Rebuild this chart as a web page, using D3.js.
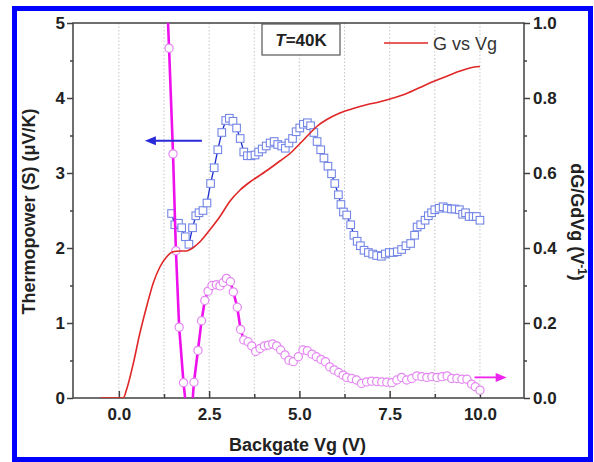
<!DOCTYPE html>
<html><head><meta charset="utf-8">
<script src="https://cdn.jsdelivr.net/npm/d3@7"></script>
<style>body{margin:0;background:#fff}svg{display:block}text{font-family:"Liberation Sans",Arial,sans-serif}</style>
</head><body><svg id="c" width="594" height="462"></svg>
<script>
// ---- data ----
const xTicks = [0, 2.5, 5, 7.5, 10];
const xTickLabels = ["0.0", "2.5", "5.0", "7.5", "10.0"];
const xMinorTicks = [1.25, 3.75, 6.25, 8.75];
const leftTicks = [0, 1, 2, 3, 4, 5];
const leftMinorTicks = [0.5, 1.5, 2.5, 3.5, 4.5];
const rightTicks = [0, 0.2, 0.4, 0.6, 0.8, 1.0];
const rightTickLabels = ["0.0", "0.2", "0.4", "0.6", "0.8", "1.0"];
const rightMinorTicks = [0.1, 0.3, 0.5, 0.7, 0.9];

// Thermopower S (left axis, µV/K)
const blueV = [1.46,1.55,1.65,1.74,1.84,1.94,2.04,2.13,2.22,2.33,2.44,2.54,2.64,2.74,2.85,2.96,3.06,3.16,3.26,3.36,3.46,3.56,3.66,3.77,3.87,3.97,4.08,4.19,4.30,4.40,4.51,4.61,4.71,4.81,4.91,5.01,5.11,5.22,5.31,5.40,5.49,5.59,5.68,5.79,5.89,5.98,6.08,6.15,6.22,6.31,6.42,6.51,6.60,6.69,6.79,6.91,7.03,7.14,7.27,7.38,7.49,7.60,7.71,7.83,7.95,8.08,8.19,8.26,8.36,8.48,8.57,8.66,8.75,8.87,8.98,9.09,9.21,9.31,9.43,9.52,9.60,9.70,9.81,9.90,10.0];
const blueS = [2.46,2.31,2.33,2.27,2.15,2.05,2.27,2.43,2.47,2.50,2.60,2.86,3.07,3.31,3.54,3.70,3.73,3.69,3.60,3.46,3.28,3.23,3.23,3.24,3.28,3.32,3.36,3.40,3.42,3.38,3.36,3.33,3.40,3.46,3.55,3.60,3.65,3.67,3.63,3.54,3.42,3.31,3.20,3.09,2.99,2.86,2.71,2.58,2.48,2.44,2.31,2.17,2.09,2.03,1.97,1.94,1.92,1.90,1.89,1.92,1.94,1.94,1.95,1.98,2.03,2.06,2.17,2.28,2.31,2.37,2.43,2.47,2.51,2.53,2.55,2.53,2.52,2.52,2.51,2.45,2.47,2.42,2.42,2.42,2.37];

// dG/GdVg (right axis, 1/V)
const magV = [1.30,1.39,1.50,1.58,1.67,1.79,1.90,2.00,2.08,2.19,2.29,2.38,2.47,2.58,2.70,2.80,2.89,2.98,3.09,3.17,3.28,3.37,3.46,3.58,3.68,3.79,3.91,4.03,4.14,4.26,4.37,4.48,4.60,4.71,4.83,4.97,5.10,5.22,5.35,5.47,5.60,5.72,5.84,5.96,6.09,6.21,6.31,6.45,6.58,6.72,6.86,7.00,7.14,7.28,7.42,7.56,7.70,7.83,7.97,8.11,8.25,8.39,8.53,8.67,8.81,8.95,9.09,9.22,9.36,9.50,9.64,9.77,9.87,10.0];
const magD = [1.15,0.933,0.651,0.393,0.189,0.041,-0.06,-0.06,0.042,0.127,0.206,0.260,0.285,0.300,0.302,0.299,0.308,0.319,0.310,0.283,0.242,0.183,0.155,0.150,0.139,0.124,0.132,0.139,0.141,0.144,0.139,0.128,0.115,0.101,0.097,0.110,0.128,0.126,0.117,0.110,0.103,0.097,0.083,0.075,0.068,0.061,0.055,0.052,0.048,0.039,0.043,0.045,0.044,0.043,0.042,0.041,0.048,0.055,0.048,0.052,0.059,0.057,0.055,0.057,0.055,0.057,0.059,0.052,0.052,0.050,0.050,0.037,0.030,0.021];

// G vs Vg (drawn on left scale)
const redV = [-0.5,0.12,0.21,0.40,0.58,0.77,0.95,1.14,1.32,1.50,1.69,1.87,2.01,2.24,2.50,2.80,3.07,3.35,3.63,3.91,4.18,4.46,4.74,5.01,5.29,5.48,5.75,6.12,6.49,6.86,7.23,7.60,7.97,8.34,8.71,9.08,9.45,9.81,10.0];
const redG = [0,0,0.107,0.46,0.86,1.22,1.53,1.75,1.88,1.95,1.96,1.96,1.99,2.08,2.23,2.42,2.62,2.77,2.88,2.97,3.06,3.16,3.26,3.39,3.53,3.62,3.71,3.80,3.86,3.91,3.95,4.00,4.06,4.14,4.22,4.29,4.36,4.41,4.42];

// ---- chart ----
const svg = d3.select("#c");
const L = 73, R = 524, T = 23, B = 398;
const x = d3.scaleLinear().domain([-1.27, 11.22]).range([L, R]);
const yL = d3.scaleLinear().domain([0, 5]).range([B, T]);
const yR = d3.scaleLinear().domain([0, 1]).range([B, T]);

// outer blue frame
svg.append("rect").attr("x", 14.5).attr("y", 8.5).attr("width", 576).attr("height", 451)
  .attr("fill", "none").attr("stroke", "#0000ff").attr("stroke-width", 5);

svg.append("clipPath").attr("id", "clip").append("rect")
  .attr("x", L).attr("y", T).attr("width", R - L).attr("height", B - T);

// grid
const grid = d3.range(0, 10.01, 1.25);
svg.append("g").selectAll("line").data(grid).join("line")
  .attr("x1", d => x(d)).attr("x2", d => x(d)).attr("y1", T).attr("y2", B)
  .attr("stroke", "#b8b8b8").attr("stroke-width", 0.8).attr("stroke-dasharray", "1.5,2");

const font = "Liberation Sans, Arial, sans-serif";
function styleAxis(g, size) {
  g.select(".domain").remove();
  g.selectAll(".tick line").attr("stroke", "#404040").attr("stroke-width", 1.5);
  g.selectAll("text").attr("fill", "#222").attr("font-size", size).attr("font-weight", "bold").attr("font-family", font);
}

// x axis (ticks inward)
svg.append("g").attr("transform", `translate(0,${B})`)
  .call(d3.axisBottom(x).tickValues(xTicks).tickSizeInner(-7).tickSizeOuter(0).tickPadding(10)
    .tickFormat((d, i) => xTickLabels[i]))
  .call(g => styleAxis(g, 17));
svg.append("g").attr("transform", `translate(0,${B})`)
  .call(d3.axisBottom(x).tickValues(xMinorTicks).tickSizeInner(-4).tickSizeOuter(0).tickFormat(""))
  .call(g => styleAxis(g, 17));

// left axis
svg.append("g").attr("transform", `translate(${L},0)`)
  .call(d3.axisLeft(yL).tickValues(leftTicks).tickSizeInner(6).tickSizeOuter(0).tickPadding(2).tickFormat(d3.format("d")))
  .call(g => styleAxis(g, 17));
svg.append("g").attr("transform", `translate(${L},0)`)
  .call(d3.axisLeft(yL).tickValues(leftMinorTicks).tickSizeInner(3).tickSizeOuter(0).tickFormat(""))
  .call(g => styleAxis(g, 17));

// right axis
svg.append("g").attr("transform", `translate(${R},0)`)
  .call(d3.axisRight(yR).tickValues(rightTicks).tickSizeInner(6).tickSizeOuter(0).tickPadding(3)
    .tickFormat((d, i) => rightTickLabels[i]))
  .call(g => styleAxis(g, 17));
svg.append("g").attr("transform", `translate(${R},0)`)
  .call(d3.axisRight(yR).tickValues(rightMinorTicks).tickSizeInner(3).tickSizeOuter(0).tickFormat(""))
  .call(g => styleAxis(g, 17));

// plot frame
svg.append("rect").attr("x", L).attr("y", T).attr("width", R - L).attr("height", B - T)
  .attr("fill", "none").attr("stroke", "#404040").attr("stroke-width", 1.5);

const plot = svg.append("g").attr("clip-path", "url(#clip)");

// blue thermopower
const blue = blueV.map((v, i) => [v, blueS[i]]);
plot.append("path").datum(blue)
  .attr("d", d3.line().x(d => x(d[0])).y(d => yL(d[1])))
  .attr("fill", "none").attr("stroke", "#1f2fd0").attr("stroke-width", 1.3);
plot.append("g").selectAll("rect").data(blue).join("rect")
  .attr("x", d => x(d[0]) - 3.8).attr("y", d => yL(d[1]) - 3.8).attr("width", 7.6).attr("height", 7.6)
  .attr("fill", "#fff").attr("stroke", "#7486e6").attr("stroke-width", 1.1);

// magenta dG/GdVg
const mag = magV.map((v, i) => [v, magD[i]]);
plot.append("path").datum(mag)
  .attr("d", d3.line().x(d => x(d[0])).y(d => yR(d[1])))
  .attr("fill", "none").attr("stroke", "#ee11ee").attr("stroke-width", 2.6);
plot.append("g").selectAll("circle").data(mag).join("circle")
  .attr("cx", d => x(d[0])).attr("cy", d => yR(d[1])).attr("r", 4.1)
  .attr("fill", "#fff").attr("stroke", "#e486f2").attr("stroke-width", 1.2);

// red G vs Vg
const red = redV.map((v, i) => [v, redG[i]]);
plot.append("path").datum(red)
  .attr("d", d3.line().curve(d3.curveMonotoneX).x(d => x(d[0])).y(d => yL(d[1])))
  .attr("fill", "none").attr("stroke", "#e02626").attr("stroke-width", 1.6);

// arrows
const ay = yL(3.43);
svg.append("line").attr("x1", x(2.3)).attr("x2", x(0.95)).attr("y1", ay).attr("y2", ay)
  .attr("stroke", "#2a2ad8").attr("stroke-width", 1.8);
svg.append("path").attr("d", `M${x(0.72)},${ay} L${x(0.72) + 11},${ay - 4.5} L${x(0.72) + 11},${ay + 4.5} Z`)
  .attr("fill", "#2a2ad8");
const my = yR(0.055);
svg.append("line").attr("x1", x(9.85)).attr("x2", x(10.45)).attr("y1", my).attr("y2", my)
  .attr("stroke", "#ee22ee").attr("stroke-width", 1.8);
svg.append("path").attr("d", `M${x(10.74)},${my} L${x(10.74) - 11},${my - 4.5} L${x(10.74) - 11},${my + 4.5} Z`)
  .attr("fill", "#ee22ee");

// T=40K box
svg.append("rect").attr("x", 262).attr("y", 24).attr("width", 78).attr("height", 31)
  .attr("fill", "#fff").attr("stroke", "#555").attr("stroke-width", 1.2);
const tt = svg.append("text").attr("x", 301).attr("y", 46).attr("text-anchor", "middle")
  .attr("font-size", 17).attr("font-weight", "bold").attr("fill", "#222");
tt.append("tspan").attr("font-style", "italic").text("T");
tt.append("tspan").text("=40K");

// legend
svg.append("line").attr("x1", 384).attr("x2", 428).attr("y1", 43).attr("y2", 43)
  .attr("stroke", "#e02626").attr("stroke-width", 1.6);
svg.append("text").attr("x", 433).attr("y", 50).attr("font-size", 18).attr("fill", "#333").text("G vs Vg");

// axis titles
svg.append("text").attr("transform", `translate(${(L + R) / 2 - 1},451)`).attr("text-anchor", "middle")
  .attr("font-size", 18).attr("font-weight", "bold").attr("fill", "#222").text("Backgate Vg (V)");
svg.append("text").attr("transform", `translate(35,${(T + B) / 2 + 1}) rotate(-90)`).attr("text-anchor", "middle")
  .attr("font-size", 18).attr("font-weight", "bold").attr("fill", "#222").text("Thermopower (S) (\u03BCV/K)");
const rt = svg.append("text").attr("transform", `translate(571,222) rotate(90)`).attr("text-anchor", "middle")
  .attr("font-size", 18).attr("font-weight", "bold").attr("fill", "#222");
rt.append("tspan").text("dG/GdVg (V");
rt.append("tspan").attr("dy", -7).attr("font-size", 12).text("-1");
rt.append("tspan").attr("dy", 7).text(")");
</script></body></html>
